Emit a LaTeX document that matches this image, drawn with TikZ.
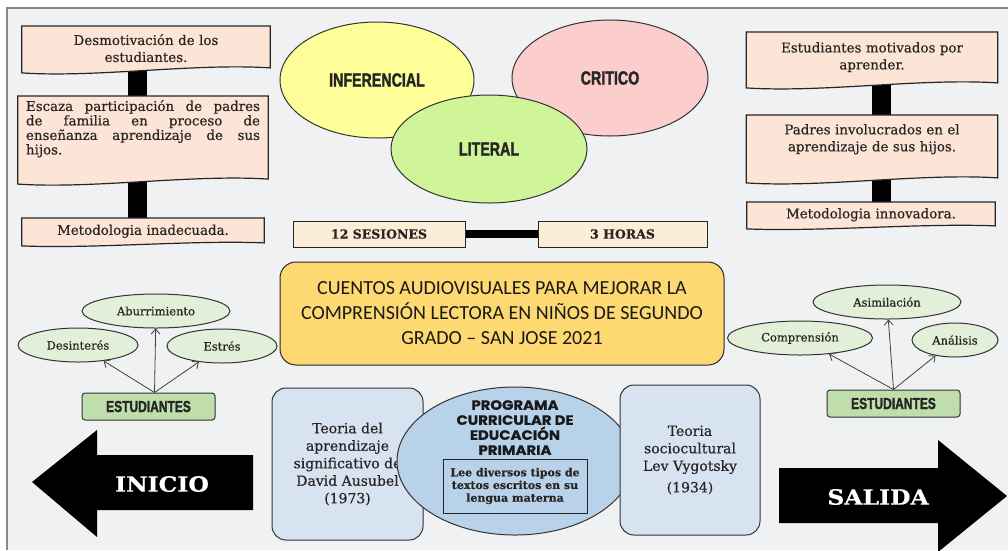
\documentclass[tikz,border=0pt]{standalone}
\usepackage{fontspec}
\setmainfont[FakeBold=0.4]{DejaVu Serif}
\newfontfamily\impactfont[FakeStretch=0.75,FakeBold=1.6]{Liberation Sans}
\newfontfamily\titlefont{Carlito}
\newfontfamily\progfont[FakeStretch=1.1,FakeBold=0.8]{Poppins}
\newfontfamily\arrowfont[FakeStretch=1.12,FakeBold=0.6]{DejaVu Serif}
\usetikzlibrary{calc,shapes.geometric,arrows.meta,backgrounds}

\definecolor{bgcol}{RGB}{240,241,243}
\definecolor{framecol}{RGB}{130,137,146}
\definecolor{ink}{RGB}{40,36,34}
\definecolor{peach}{RGB}{252,229,214}
\definecolor{cream}{RGB}{252,237,215}
\definecolor{infcol}{RGB}{255,255,153}
\definecolor{critcol}{RGB}{252,205,205}
\definecolor{litcol}{RGB}{208,245,152}
\definecolor{titcol}{RGB}{254,216,112}
\definecolor{leafcol}{RGB}{226,239,217}
\definecolor{estcol}{RGB}{192,222,172}
\definecolor{teocol}{RGB}{216,227,242}
\definecolor{progcol}{RGB}{184,210,234}

% document shape with a wavy bottom: node, drop below south, wave height
\newcommand{\docshape}[3]{%
  \filldraw[docline] (#1.north west) -- (#1.north east)
    -- ($(#1.south east)+(0,#2-#3)$)
    .. controls ($(#1.south east)!0.3!(#1.south west)+(0,#2-3*#3)$)
       and ($(#1.south west)!0.3!(#1.south east)+(0,#2+3*#3)$)
    .. ($(#1.south west)+(0,#2+#3)$) -- cycle;}

\begin{document}
\begin{tikzpicture}[x=1pt,y=-1pt,
  txt/.style={text=ink,font=\fontsize{13.4}{17}\selectfont},
  docbox/.style={txt,text width=#1,inner xsep=8pt,inner ysep=4pt,align=center},
  docline/.style={fill=peach,draw=black!85,line width=1.2pt},
  bar/.style={line width=19pt,black},
  oval/.style={ellipse,draw=black!80,line width=1pt,
    font=\impactfont\bfseries\fontsize{19}{21}\selectfont,text=black!85},
  leaf/.style={ellipse,draw=black!80,line width=1pt,fill=leafcol,txt,
    font=\fontsize{11.5}{13}\selectfont,minimum height=34pt},
  estbox/.style={draw=black!80,line width=1pt,fill=estcol,rounded corners=3pt,
    minimum width=133pt,minimum height=27pt,text=black!85,
    font=\impactfont\bfseries\fontsize{16}{18}\selectfont},
  sesbox/.style={draw=black!85,line width=1pt,fill=cream,txt,
    font=\bfseries\fontsize{12.5}{14}\selectfont,minimum height=26pt},
  teobox/.style={draw=black!80,line width=1pt,fill=teocol,rounded corners=14pt,
    txt,font=\fontsize{14}{17.5}\selectfont,align=center},
  ray/.style={draw=black!75,line width=0.8pt,-{Straight Barb[length=5pt,width=9pt]}},
  bigtxt/.style={text=white,font=\arrowfont\bfseries\fontsize{21}{24}\selectfont}]
\useasboundingbox (0,0) rectangle (1008,550);
\begin{scope}[on background layer]
  \fill[bgcol] (7,8) rectangle (1008,550);
  \draw[framecol,line width=1.2pt] (7,550) -- (7,8) -- (1008,8);
\end{scope}

% left column
\node[docbox=232pt,minimum height=44pt,anchor=north] (dem) at (146,26)
  {Desmotivación de los\\estudiantes.};
\node[docbox=234pt,align=justify,anchor=north,font=\fontsize{13.4}{14.5}\selectfont] (esc) at (143,96)
  {Escaza participación de padres\linebreak de familia en proceso de\linebreak
   enseñanza aprendizaje de sus\linebreak hijos.};
\node[docbox=226pt,minimum height=26pt,anchor=north] (ina) at (143,218)
  {Metodologia inadecuada.};

% right column
\node[docbox=235pt,minimum height=50pt,anchor=north] (mot) at (872,32)
  {Estudiantes motivados por\\aprender.};
\node[docbox=235pt,minimum height=48pt,anchor=north] (inv) at (872,115)
  {Padres involucrados en el\\aprendizaje de sus hijos.};
\node[docbox=232pt,minimum height=25pt,anchor=north] (inn) at (871,202)
  {Metodologia innovadora.};

\begin{scope}[on background layer]
  \draw[bar] ([xshift=-9pt]dem.south) -- ([xshift=-6pt]esc.north);
  \draw[bar] ([xshift=-6pt]esc.south) -- ([xshift=-6pt]ina.north);
  \draw[bar] ([xshift=9pt]mot.south) -- ([xshift=9pt]inv.north);
  \draw[bar] ([xshift=9pt]inv.south) -- ([xshift=10pt]inn.north);
  \docshape{dem}{0}{2.5}
  \docshape{esc}{20}{2.5}
  \docshape{ina}{0}{1.5}
  \docshape{mot}{3}{2.5}
  \docshape{inv}{17}{2.5}
  \docshape{inn}{0}{1.5}
\end{scope}

% comprehension levels
\node[oval,fill=infcol,minimum width=194pt,minimum height=116pt] (inf) at (377,80) {INFERENCIAL};
\node[oval,fill=critcol,minimum width=196pt,minimum height=116pt] (crit) at (610,78) {CRITICO};
\node[oval,fill=litcol,minimum width=196pt,minimum height=108pt] (lit) at (489,149) {LITERAL};

\node[sesbox,minimum width=172pt] (ses) at (379,234) {12 SESIONES};
\node[sesbox,minimum width=169pt] (hrs) at (622.5,234) {3 HORAS};
\draw[line width=8pt,black] (ses) -- (hrs);

% title
\node[draw=black!85,line width=1pt,fill=titcol,rounded corners=16pt,
  minimum width=444pt,minimum height=103pt,align=center,text=black!90,
  font=\titlefont\fontsize{20}{25}\selectfont] (tit) at (502,313.5)
  {CUENTOS AUDIOVISUALES PARA MEJORAR LA\\COMPRENSIÓN LECTORA EN NIÑOS DE SEGUNDO\\GRADO – SAN JOSE 2021};

% students, left
\node[leaf,minimum width=148pt] (abu) at (156,311) {Aburrimiento};
\node[leaf,minimum width=120pt] (des) at (78,345) {Desinterés};
\node[leaf,minimum width=110pt] (estr) at (222,346) {Estrés};
\node[estbox] (est1) at (148.5,406.5) {ESTUDIANTES};
\foreach \n in {des,abu,estr}
  \draw[ray] ([xshift=6pt]est1.north) -- (\n);

% students, right
\node[leaf,minimum width=148pt] (asi) at (887,302) {Asimilación};
\node[leaf,minimum width=145pt] (com) at (800,338) {Comprensión};
\node[leaf,minimum width=86pt] (ana) at (955,340) {Análisis};
\node[estbox] (est2) at (893.5,403.5) {ESTUDIANTES};
\foreach \n in {com,asi,ana}
  \draw[ray] (est2.north) -- (\n);

% bottom row
\node[teobox,minimum width=151pt,minimum height=152pt] (aus) at (347.5,464)
  {Teoria del\\aprendizaje\\significativo de\\David Ausubel\\(1973)};
\node[ellipse,draw=black!80,line width=1pt,fill=progcol,
  minimum width=236pt,minimum height=148pt] (prog) at (515,461) {};
\node[align=center,text=black!90,font=\progfont\bfseries\fontsize{13.5}{15}\selectfont]
  (progtit) at (515,427.5) {PROGRAMA\\CURRICULAR DE\\EDUCACIÓN\\PRIMARIA};
\node[draw=black!85,line width=1pt,fill=progcol,minimum width=144pt,minimum height=54pt,
  align=center,txt,font=\bfseries\fontsize{11}{12.7}\selectfont] (lee) at (515,486)
  {Lee diversos tipos de\\textos escritos en su\\lengua materna};
\node[teobox,minimum width=140pt,minimum height=150pt] (vyg) at (690,460)
  {Teoria\\sociocultural\\Lev Vygotsky\\[4pt](1934)};

% big arrows
\fill[black] (32,482) -- (97,430) -- (97,455) -- (253,455) -- (253,510)
  -- (97,510) -- (97,537) -- cycle;
\node[bigtxt] (ini) at (162,484) {INICIO};
\fill[black] (779,468) -- (938,468) -- (938,440) -- (1007,496) -- (938,552)
  -- (938,523) -- (779,523) -- cycle;
\node[bigtxt] (sal) at (878,497) {SALIDA};
\end{tikzpicture}
\end{document}
